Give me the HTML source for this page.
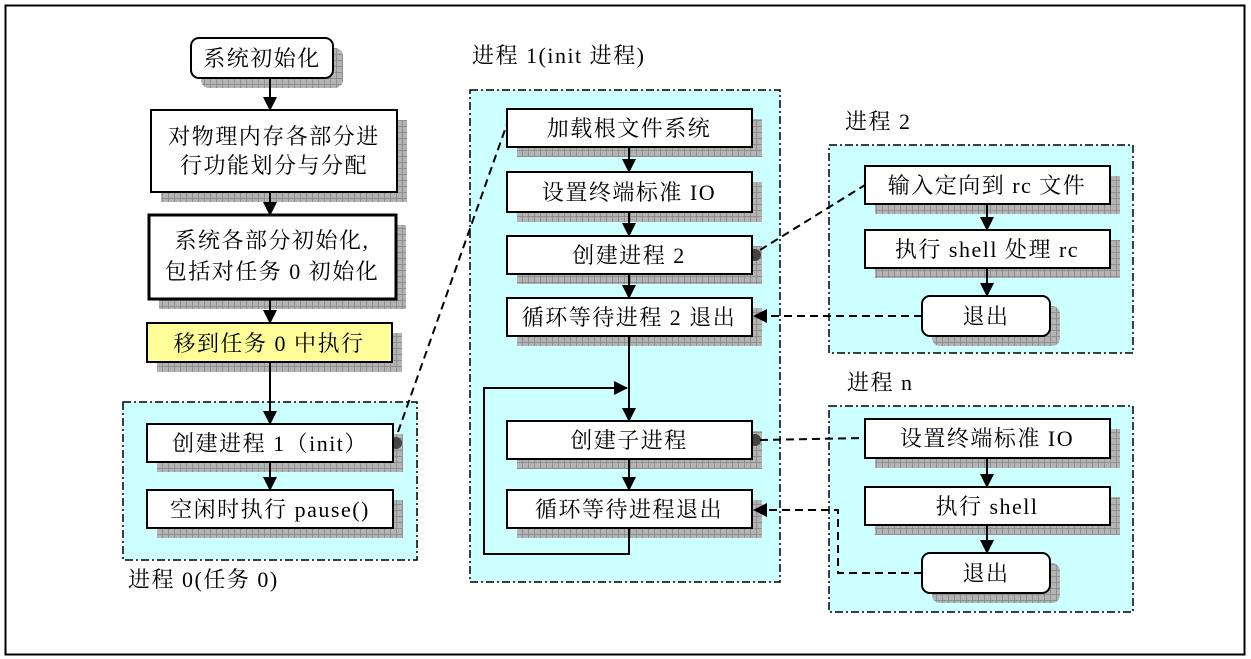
<!DOCTYPE html>
<html><head><meta charset="utf-8"><style>
html,body{margin:0;padding:0;background:#fff}
svg{display:block}
text{font-family:"Liberation Serif","Noto Serif CJK SC",serif;font-size:22px;fill:#000;letter-spacing:1.5px}
</style></head><body>
<svg width="1251" height="659" viewBox="0 0 1251 659" xmlns="http://www.w3.org/2000/svg">
<defs>
<pattern id="g" width="6" height="6" patternUnits="userSpaceOnUse">
<rect width="6" height="6" fill="#b4b4b4"/>
<path d="M0 0.5H6M0.5 0V6" stroke="#8f8f8f" stroke-width="1"/>
</pattern>
<marker id="b" viewBox="0 0 14 14" markerWidth="14" markerHeight="14" refX="13" refY="7" orient="auto" markerUnits="userSpaceOnUse">
<path d="M0 0L14 7L0 14Z" fill="#000"/>
</marker>
</defs>
<rect x="5.5" y="5.5" width="1239" height="649" fill="#fff" stroke="#000" stroke-width="2"/>

<g fill="#ccffff" stroke="#000" stroke-width="1.5" stroke-dasharray="8,3,2,3">
<rect x="123" y="402" width="294" height="158"/>
<rect x="470" y="90" width="310" height="492"/>
<rect x="829" y="145" width="304" height="208"/>
<rect x="829" y="406" width="304" height="206"/>
</g>

<g fill="url(#g)">
<rect x="201" y="48" width="142" height="40" rx="8"/>
<rect x="161" y="120" width="246" height="82"/>
<rect x="159" y="225" width="247" height="84"/>
<rect x="157" y="333" width="245" height="39"/>
<rect x="157" y="434" width="246" height="38"/>
<rect x="157" y="500" width="246" height="38"/>
<rect x="517" y="119" width="245" height="38"/>
<rect x="517" y="182" width="245" height="40"/>
<rect x="517" y="246" width="245" height="38"/>
<rect x="517" y="308" width="245" height="38"/>
<rect x="517" y="431" width="245" height="38"/>
<rect x="517" y="500" width="245" height="38"/>
<rect x="875" y="176" width="245" height="38"/>
<rect x="875" y="240" width="245" height="38"/>
<rect x="932" y="306" width="128" height="40" rx="8"/>
<rect x="875" y="429" width="245" height="39"/>
<rect x="875" y="497" width="245" height="38"/>
<rect x="932" y="563" width="128" height="40" rx="8"/>
</g>

<g fill="#444">
<circle cx="396" cy="443" r="6"/>
<circle cx="755" cy="255" r="6"/>
<circle cx="755" cy="440" r="6"/>
</g>

<g stroke="#000" stroke-width="2" fill="none" marker-end="url(#b)">
<line x1="270" y1="78" x2="270" y2="110"/>
<line x1="270" y1="190" x2="270" y2="215"/>
<line x1="270" y1="298" x2="270" y2="323"/>
<line x1="270" y1="362" x2="270" y2="424"/>
<line x1="270" y1="462" x2="270" y2="490"/>
<line x1="629" y1="147" x2="629" y2="172"/>
<line x1="629" y1="212" x2="629" y2="236"/>
<line x1="629" y1="274" x2="629" y2="298"/>
<line x1="629" y1="336" x2="629" y2="421"/>
<line x1="629" y1="459" x2="629" y2="490"/>
<polyline points="629,528 629,554 484,554 484,388 627,388"/>
<line x1="987" y1="204" x2="987" y2="230"/>
<line x1="987" y1="268" x2="987" y2="296"/>
<line x1="987" y1="458" x2="987" y2="487"/>
<line x1="987" y1="525" x2="987" y2="553"/>
</g>

<g stroke="#000" stroke-width="2" fill="none" stroke-dasharray="8,5">
<line x1="398" y1="432" x2="507" y2="124"/>
<line x1="760" y1="250" x2="865" y2="185"/>
<line x1="760" y1="440" x2="865" y2="438"/>
<line x1="922" y1="316" x2="754" y2="316" marker-end="url(#b)"/>
<polyline points="922,573 838,573 838,510 754,510" marker-end="url(#b)"/>
</g>

<g stroke="#000" stroke-width="2" fill="#fff">
<rect x="191" y="38" width="142" height="40" rx="8"/>
<rect x="151" y="110" width="246" height="82"/>
<rect x="149" y="215" width="247" height="84" stroke-width="3"/>
<rect x="147" y="323" width="245" height="39" fill="#ffff99"/>
<rect x="147" y="424" width="246" height="38"/>
<rect x="147" y="490" width="246" height="38"/>
<rect x="507" y="109" width="245" height="38"/>
<rect x="507" y="172" width="245" height="40"/>
<rect x="507" y="236" width="245" height="38"/>
<rect x="507" y="298" width="245" height="38"/>
<rect x="507" y="421" width="245" height="38"/>
<rect x="507" y="490" width="245" height="38"/>
<rect x="865" y="166" width="245" height="38"/>
<rect x="865" y="230" width="245" height="38"/>
<rect x="922" y="296" width="128" height="40" rx="8"/>
<rect x="865" y="419" width="245" height="39"/>
<rect x="865" y="487" width="245" height="38"/>
<rect x="922" y="553" width="128" height="40" rx="8"/>
</g>

<g text-anchor="middle">
<text x="262" y="66">系统初始化</text>
<text x="274" y="144">对物理内存各部分进</text>
<text x="274" y="173">行功能划分与分配</text>
<text x="272" y="248">系统各部分初始化,</text>
<text x="272" y="279">包括对任务 0 初始化</text>
<text x="269" y="351">移到任务 0 中执行</text>
<text x="270" y="451">创建进程 1（init）</text>
<text x="270" y="517">空闲时执行 pause()</text>
<text x="629" y="136">加载根文件系统</text>
<text x="629" y="200">设置终端标准 IO</text>
<text x="629" y="263">创建进程 2</text>
<text x="629" y="325">循环等待进程 2 退出</text>
<text x="629" y="448">创建子进程</text>
<text x="629" y="517">循环等待进程退出</text>
<text x="987" y="193">输入定向到 rc 文件</text>
<text x="987" y="257">执行 shell 处理 rc</text>
<text x="986" y="324">退出</text>
<text x="987" y="446">设置终端标准 IO</text>
<text x="987" y="514">执行 shell</text>
<text x="986" y="581">退出</text>
</g>
<text x="128" y="587">进程 0(任务 0)</text>
<text x="472" y="63">进程 1(init 进程)</text>
<text x="845" y="129">进程 2</text>
<text x="847" y="390">进程 n</text>
</svg>
</body></html>
